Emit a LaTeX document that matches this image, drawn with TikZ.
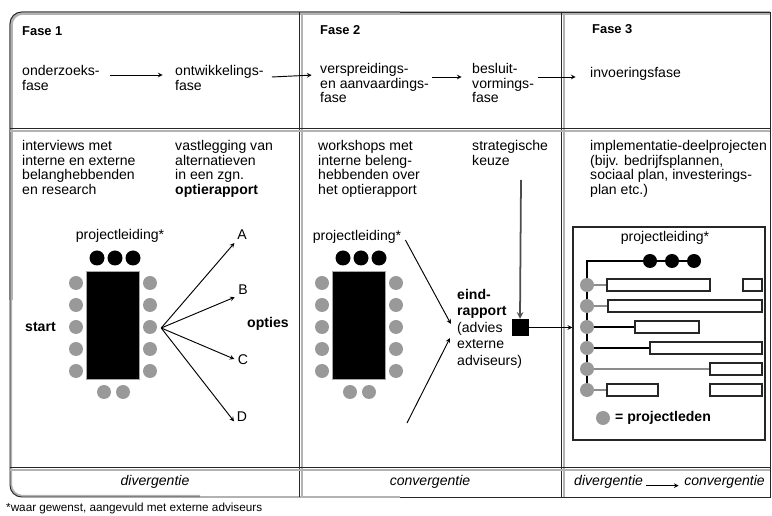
\documentclass[tikz,border=0pt]{standalone}
\usepackage{fontspec}
\setmainfont{Liberation Sans}
\usetikzlibrary{
  calc,
  fit,
  backgrounds,
  positioning,
  arrows
}
\tikzset{
  txt/.style = {inner sep=0, align=left, anchor=north west, font=\fontsize{12}{12.5}\selectfont},
  kop/.style = {inner sep=0, anchor=west, font=\fontsize{11}{13}\selectfont\bfseries},
  lbl/.style = {inner sep=1pt, font=\fontsize{12}{13}\selectfont},
  ital/.style = {inner sep=0, font=\fontsize{12}{13}\selectfont\itshape},
  lead/.style = {circle, fill=black, inner sep=0, minimum size=0.45cm},
  lid/.style = {circle, fill=black!40, inner sep=0, minimum size=0.42cm},
  tafel/.style = {fill=black, draw=black!35, line width=0.8pt, inner sep=0,
                  minimum width=1.59cm, minimum height=3.24cm},
  taak/.style = {draw=black!85, line width=1.3pt, fill=white, inner sep=0},
  rand/.style = {draw=black!85, line width=0.8pt},
  schaduw/.style = {draw=black!30, line width=1.8pt},
  pijl/.style = {->, line width=0.8pt, shorten >=2pt}
}
\begin{document}
\begin{tikzpicture}[x=0.03cm, y=-0.03cm, >=stealth]
  \useasboundingbox (0,0) rectangle (772,516);

  % kader en kolommen
  \draw[schaduw, line width=3pt, rounded corners=10pt] (770,13) -- (11,13) -- (11,300);
  \draw[schaduw, rounded corners=10pt] (11,300) -- (11,496) -- (200,496);
  \draw[rand, rounded corners=10pt] (400,12) -- (10,12) -- (10,497) -- (400,497);
  \draw[rand] (400,12) -- (770,12) -- (770,497) -- (400,497);
  \draw[schaduw] (302,14) -- (302,497);
  \draw[schaduw] (564,14) -- (564,497);
  \draw[rand] (299,12) -- (299,497);
  \draw[rand] (561,12) -- (561,497);
  \draw[schaduw] (10,131) -- (770,131);
  \draw[schaduw] (10,470) -- (770,470);
  \draw[rand] (10,128) -- (770,128);
  \draw[rand] (10,467) -- (770,467);

  % fasen
  \node[kop] (fase1) at (22,31) {Fase 1};
  \node[kop] (fase2) at (320,30) {Fase 2};
  \node[kop] (fase3) at (592,29) {Fase 3};

  \node[txt] (ond) at (22,65) {onderzoeks-\\fase};
  \node[txt] (ont) at (175,65) {ontwikkelings-\\fase};
  \node[txt] (ver) at (320,63) {verspreidings-\\en aanvaardings-\\fase};
  \node[txt] (bes) at (472,63) {besluit-\\vormings-\\fase};
  \node[txt, anchor=west] (inv) at (590,74) {invoeringsfase};

  \draw[pijl] ($(ond.north east)+(10,10)$) -- ($(ont.north west)+(-10,10)$);
  \draw[pijl] ($(ont.north east)+(8,12)$) -- ($(ver.north west)+(-6,12)$);
  \draw[pijl] ($(ver.north east)+(3,14)$) -- ($(bes.north west)+(-8,14)$);
  \draw[pijl] ($(bes.north east)+(4,14)$) -- ($(inv.west)+(-12,3)$);

  % fase 1
  \node[txt] (intv) at (22,140) {interviews met\\interne en externe\\belanghebbenden\\en research};
  \node[txt] (vast) at (175,140) {vastlegging van\\alternatieven\\in een zgn.\\\textbf{optierapport}};

  \foreach \t/\dx in {1/0, 2/246} {
    \begin{scope}[shift={(\dx,0)}]
      \node[tafel] (tafel\t) at (112.5,325) {};
      \foreach \i/\x in {1/97, 2/115, 3/133}
        \node[lead] (lead\t\i) at (\x,258) {};
      \foreach \i/\y in {1/283, 2/305, 3/327, 4/349, 5/371} {
        \node[lid] (links\t\i) at (76,\y) {};
        \node[lid] (rechts\t\i) at (150,\y) {};
      }
      \node[lid] (onder\t1) at (104,392) {};
      \node[lid] (onder\t2) at (123,392) {};
    \end{scope}
  }

  \node[lbl, inner sep=0] (pl1) at (120,236) {projectleiding*};
  \node[kop, font=\fontsize{12}{13}\selectfont\bfseries] (start) at (25,327) {start};
  \node[kop, font=\fontsize{12}{13}\selectfont\bfseries] (opties) at (247,324) {opties};

  \node[lbl] (optA) at (242,235) {A};
  \node[lbl] (optB) at (243,290) {B};
  \node[lbl] (optC) at (243,360) {C};
  \node[lbl] (optD) at (242,417) {D};

  \coordinate (waaier) at ($(rechts13.east)+(4,1)$);
  \draw[pijl] (waaier) -- (optA.south west);
  \draw[pijl] (waaier) -- (optB.south west);
  \draw[pijl] (waaier) -- (optC.west);
  \draw[pijl] (waaier) -- (optD.south west);

  % fase 2
  \node[txt] (work) at (318,140) {workshops met\\interne beleng-\\hebbenden over\\het optierapport};
  \node[txt] (strat) at (472,140) {strategische\\keuze};
  \node[lbl, inner sep=0] (pl2) at (357,237) {projectleiding*};

  \node[txt, font=\fontsize{12}{14}\selectfont] (eind) at (457,289)
    {\textbf{eind-}\\\textbf{rapport}\\(advies\\externe\\adviseurs)};
  \node[fill=black, inner sep=0, minimum size=0.51cm] (rapport) at (520,327.5) {};

  \coordinate (keuzevoet) at (521,180);
  \coordinate (ondervoet) at (407,423);
  \draw[pijl, line width=1.5pt, black!70, shorten >=0pt] (keuzevoet) -- (rapport.north);
  \draw[pijl] ($(pl2.east)+(4,3)$) -- ($(eind.north west)+(-5,37)$);
  \draw[pijl] (ondervoet) -- ($(eind.north west)+(-6,47)$);

  % fase 3
  \node[txt] (impl) at (590,140) {implementatie-deelprojecten\\(bijv. bedrijfsplannen,\\sociaal plan, investerings-\\plan etc.)};
  \node[draw=black!85, line width=1.2pt, inner sep=0, minimum width=5.76cm,
        minimum height=6.39cm] (deelbox) at (669,333.5) {};
  \node[lbl, inner sep=0] (pl3) at (665,238) {projectleiding*};

  \draw[pijl, shorten >=0pt] (rapport.east) -- (rapport.east -| deelbox.west);

  \foreach \i/\x in {1/650, 2/672, 3/694}
    \node[lead, minimum size=0.42cm] (lead3\i) at (\x,261) {};
  \foreach \r in {0,...,5}
    \node[lid] (pl\r) at (587,{285+21*\r}) {};
  \foreach \n/\r/\a/\b in {a/0/607/710, b/0/743/762, c/1/608/762, d/2/635/699,
                          e/3/650/762, f/4/710/762, g/5/607/658, h/5/710/762}
    \node[taak, fit={(\a,{285+21*\r-6}) (\b,{285+21*\r+6})}] (taak\n) {};

  \begin{scope}[on background layer]
    \draw[line width=1.2pt] (lead33) -- (lead31) -| (pl5);
    \foreach \r/\n/\k in {0/a/black!45, 1/c/black!45, 2/d/black, 3/e/black, 4/f/black!45, 5/g/black!45}
      \draw[line width=1.3pt, \k] (pl\r) -- (taak\n);
  \end{scope}

  \node[lid] (legdot) at (603,418) {};
  \node[kop, font=\fontsize{12}{13}\selectfont\bfseries, right=4pt of legdot] (legtxt) {= projectleden};

  % onderste rij
  \node[ital] (div1) at (155,482) {divergentie};
  \node[ital] (conv2) at (430,482) {convergentie};
  \node[ital, anchor=west] (div3) at (574,482) {divergentie};
  \node[ital, anchor=east] (conv3) at (765,482) {convergentie};
  \draw[pijl] ($(div3.base east)+(3,0)$) -- ($(conv3.base west)+(-3,0)$);

  \node[inner sep=0, anchor=west, font=\fontsize{10}{11}\selectfont] (voetnoot) at (6,508)
    {*waar gewenst, aangevuld met externe adviseurs};
\end{tikzpicture}
\end{document}
